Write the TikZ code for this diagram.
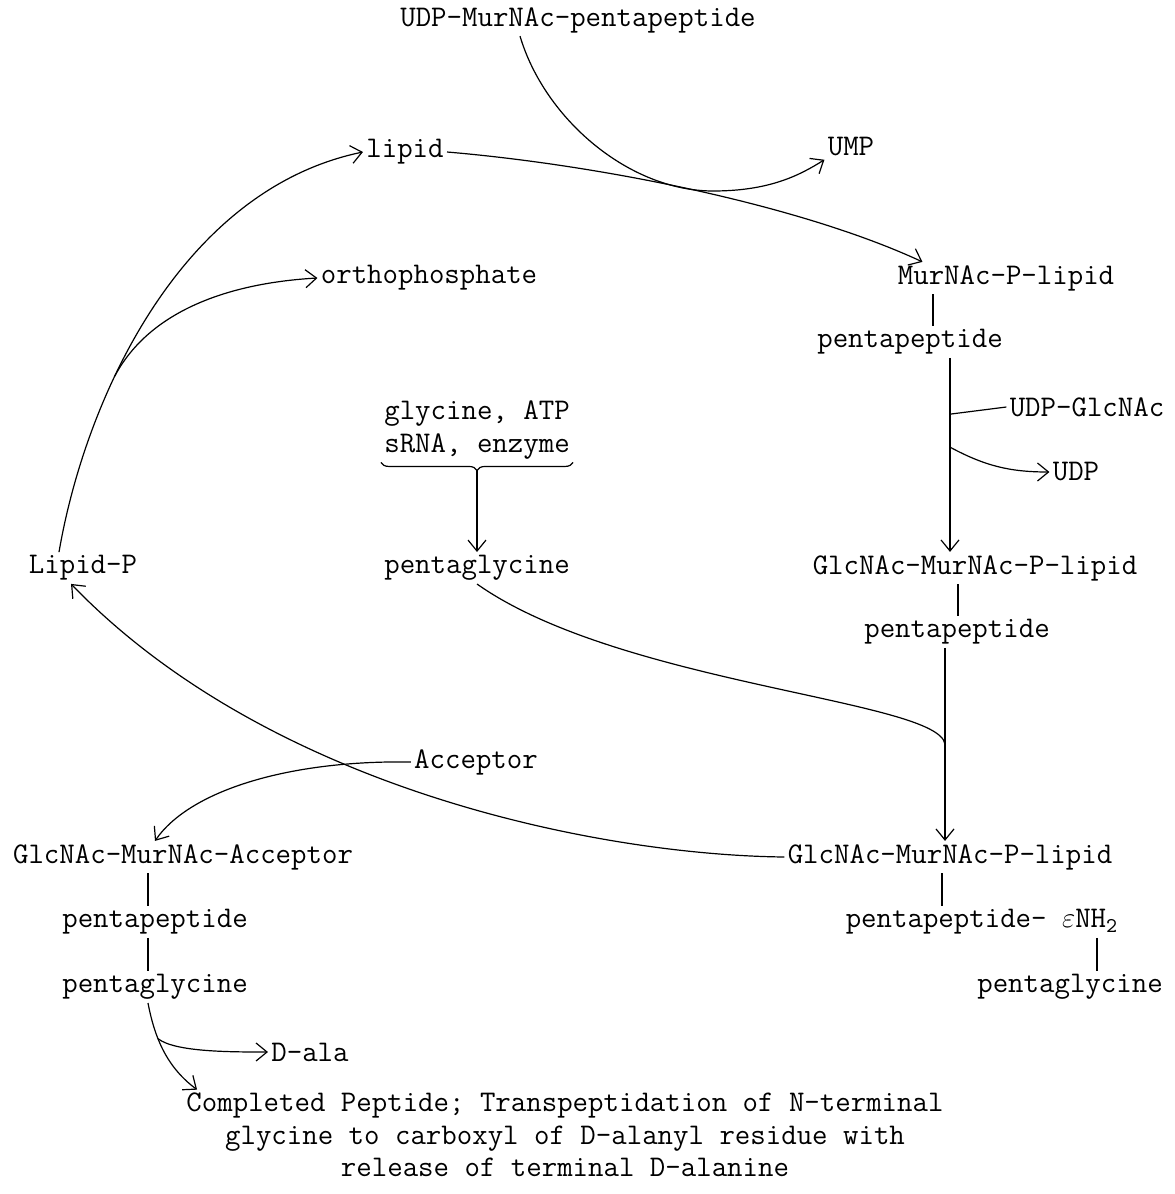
\documentclass[tikz,border=0pt]{standalone}
\usepackage{fontspec}
\usepackage{amsmath}
\usetikzlibrary{arrows.meta,decorations.pathreplacing}

\begin{document}
\begin{tikzpicture}[x=0.5pt,y=-0.5pt,
    every node/.style={font=\fontsize{15}{16.25}\selectfont\ttfamily, inner sep=1.5pt},
    conn/.style={line width=0.6pt},
    rxn/.style={conn,-{Straight Barb[length=5.5pt,width=9pt]}}]
  \useasboundingbox (0,0) rectangle (1174,1194);

  % compounds
  \node (udpmur) at (578,20) {UDP-MurNAc-pentapeptide};
  \node (lipid) at (405,152) {lipid};
  \node (ump) at (851,147) {UMP};
  \node (murlip) at (1006,278) {MurNAc-P-lipid};
  \node (pep1) at (910,342) {pentapeptide};
  \node (udpglc) at (1087,407) {UDP-GlcNAc};
  \node (udp) at (1076,472) {UDP};
  \node (glcmur1) at (975,568) {GlcNAc-MurNAc-P-lipid};
  \node (pep2) at (957,632) {pentapeptide};
  \node (glcmur2) at (950,857) {GlcNAc-MurNAc-P-lipid};
  \node (pep3) at (982,922) {pentapeptide- $\varepsilon$NH$_{\texttt{2}}$};
  \node (pgly3) at (1070,987) {pentaglycine};
  \node (lipidp) at (83,568) {Lipid-P};
  \node (orth) at (429,278) {orthophosphate};
  \node[align=center] (reag) at (477,430) {glycine, ATP\\sRNA, enzyme};
  \node (pgly2) at (477,568) {pentaglycine};
  \node (acc) at (476,762) {Acceptor};
  \node (glcacc) at (183,857) {GlcNAc-MurNAc-Acceptor};
  \node (pep4) at (155,922) {pentapeptide};
  \node (pgly4) at (155,987) {pentaglycine};
  \node (dala) at (310,1052) {D-ala};
  \node[align=center] (done) at (565,1135) {Completed Peptide; Transpeptidation of N-terminal\\glycine to carboxyl of D-alanyl residue with\\release of terminal D-alanine};

  % bond positions
  \coordinate (b1) at (933,0);
  \coordinate (b2) at (950,0);
  \coordinate (b3) at (958,0);
  \coordinate (b4) at (945,0);
  \coordinate (b5) at (942,0);
  \coordinate (b6) at (1097,0);
  \coordinate (b7) at (148,0);

  % right column
  \draw[conn] (murlip.south -| b1) -- (pep1.north -| b1);
  \draw[rxn] (pep1.south -| b2) -- coordinate[pos=0.29] (ja) coordinate[pos=0.46] (jb) (glcmur1.north -| b2);
  \draw[conn] (ja) -- (udpglc.west);
  \draw[rxn] (jb) .. controls (985,466) and (1010,472) .. (udp.west);
  \draw[conn] (glcmur1.south -| b3) -- (pep2.north -| b3);
  \draw[rxn] (pep2.south -| b4) -- coordinate[pos=0.5] (jc) (glcmur2.north -| b4);
  \draw[conn] (pgly2.south) .. controls (620,685) and (940,700) .. (jc);
  \draw[conn] (glcmur2.south -| b5) -- (pep3.north -| b5);
  \draw[conn] (pep3.south -| b6) -- (pgly3.north -| b6);

  % lipid cycle
  \draw[rxn] (glcmur2.west) .. controls (600,855) and (270,790) .. ([xshift=-6pt]lipidp.south);
  \draw[rxn] ([xshift=-12pt]lipidp.north) .. controls (85,400) and (180,190) .. coordinate[pos=0.36] (jd) (lipid.west);
  \draw[rxn] (jd) .. controls (150,310) and (230,283) .. (orth.west);
  \draw[rxn] (lipid.east) .. controls (600,165) and (800,205) .. ([xshift=14pt]murlip.north west);
  \draw[rxn] ([xshift=-29pt]udpmur.south) .. controls (545,120) and (630,191) .. (713,191)
    .. controls (770,191) and (800,175) .. (ump.south west);

  % pentaglycine
  \draw[conn, decorate, decoration={brace,mirror,amplitude=4pt}] (reag.south west) -- (reag.south east);
  \draw[rxn] ([yshift=-4pt]reag.south) -- (pgly2.north);

  % acceptor side
  \draw[rxn] (acc.west) .. controls (290,760) and (190,790) .. ([xshift=-14pt]glcacc.north);
  \draw[conn] (glcacc.south -| b7) -- (pep4.north -| b7);
  \draw[conn] (pep4.south -| b7) -- (pgly4.north -| b7);
  \draw[rxn] (pgly4.south -| b7) .. controls (155,1040) and (168,1068) .. coordinate[pos=0.35] (jf) ([xshift=7pt]done.north west);
  \draw[rxn] (jf) .. controls (175,1052) and (230,1052) .. (dala.west);
\end{tikzpicture}
\end{document}
